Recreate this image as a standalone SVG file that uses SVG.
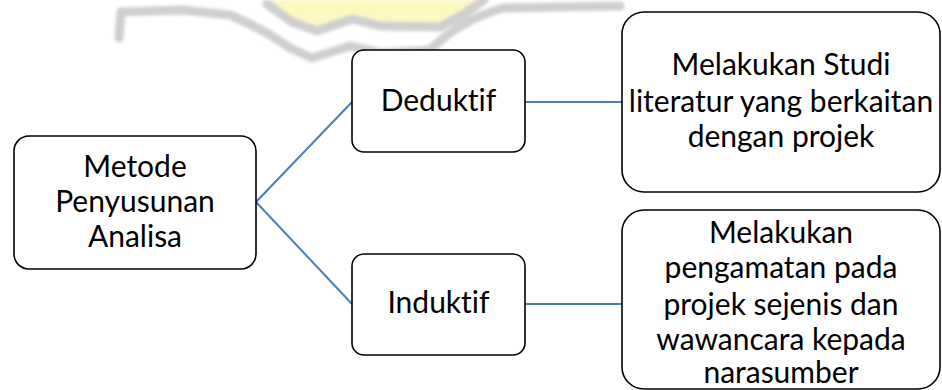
<svg xmlns="http://www.w3.org/2000/svg" width="942" height="390" viewBox="0 0 942 390">
  <style>
    .box { fill: #ffffff; stroke: #000000; stroke-width: 1.6; }
    .lbl { font-family: Lato, "Open Sans", sans-serif; font-size: 30px; fill: #000000; text-anchor: middle; font-variant-ligatures: none; font-feature-settings: "liga" 0, "clig" 0; }
    .link { fill: none; stroke: #4a7ebb; stroke-width: 2; }
    .wm { fill: none; stroke: #cdcdcd; stroke-width: 9; stroke-linejoin: round; stroke-linecap: round; }
  </style>
  <defs>
    <filter id="soft" x="-5%" y="-20%" width="110%" height="140%">
      <feGaussianBlur stdDeviation="1.5"/>
    </filter>
  </defs>
  <rect width="942" height="390" fill="#ffffff"/>

  <!-- faint logo band in the background -->
  <g id="watermark" filter="url(#soft)" opacity="0.95">
    <path d="M262 0 L290 18 L317 28 L352 16 L380 24 L440 25 L462 14 L482 0 Z" fill="#fbf8bd"/>
    <path class="wm" d="M267 4 L292 22 L317 31 L352 19 L380 26 L440 27 L464 14 L484 0" stroke-width="6"/>
    <path class="wm" d="M119 38 L121 12 L183 10 L230 15 Q265 30 290 48 L312 58 L350 46 L380 53 L430 50 Q460 20 503 8 L620 6"/>
  </g>

  <g id="connectors">
    <line class="link" x1="256" y1="202" x2="352" y2="102"/>
    <line class="link" x1="256" y1="202" x2="352" y2="304"/>
    <line class="link" x1="525" y1="102" x2="622" y2="102"/>
    <line class="link" x1="525" y1="304" x2="622" y2="304"/>
  </g>

  <g id="node-metode">
    <rect class="box" x="14" y="136" width="242" height="133" rx="15"/>
    <text class="lbl" x="135" y="177">Metode</text>
    <text class="lbl" x="135" y="212">Penyusunan</text>
    <text class="lbl" x="135" y="247">Analisa</text>
  </g>

  <g id="node-deduktif">
    <rect class="box" x="352" y="50" width="173" height="102" rx="12"/>
    <text class="lbl" x="438.5" y="111">Deduktif</text>
  </g>

  <g id="node-induktif">
    <rect class="box" x="352" y="254" width="173" height="101" rx="12"/>
    <text class="lbl" x="438.5" y="313">Induktif</text>
  </g>

  <g id="node-studi">
    <rect class="box" x="622" y="12" width="318" height="180" rx="22"/>
    <text class="lbl" x="781" y="75">Melakukan Studi</text>
    <text class="lbl" x="781" y="112">literatur yang berkaitan</text>
    <text class="lbl" x="781" y="147">dengan projek</text>
  </g>

  <g id="node-pengamatan">
    <rect class="box" x="622" y="210" width="318" height="179" rx="22"/>
    <text class="lbl" x="781" y="243">Melakukan</text>
    <text class="lbl" x="781" y="278">pengamatan pada</text>
    <text class="lbl" x="781" y="315">projek sejenis dan</text>
    <text class="lbl" x="781" y="350">wawancara kepada</text>
    <text class="lbl" x="781" y="383">narasumber</text>
  </g>
</svg>
